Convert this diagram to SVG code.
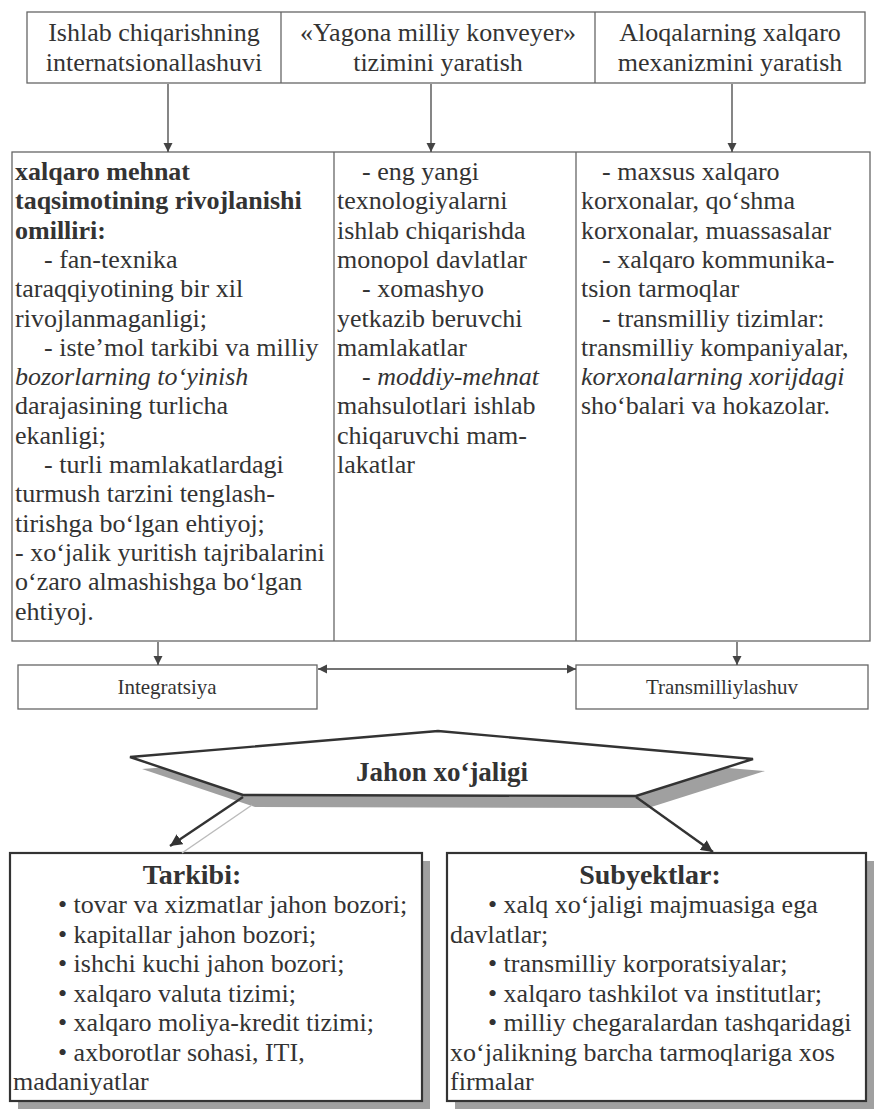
<svg xmlns="http://www.w3.org/2000/svg" width="876" height="1118" viewBox="0 0 876 1118">
<style>
.t{font-family:"Liberation Serif","Times New Roman",serif;font-size:26px;fill:#333}
.c{text-anchor:middle}
.b{font-weight:bold}
.i{font-style:italic}
.s{font-size:21px}
.box{fill:#fff;stroke:#666;stroke-width:1.3}
.div{stroke:#666;stroke-width:1.3}
.bb{fill:#fff;stroke:#333;stroke-width:2.2}
.sh{fill:#a0a0a0}
.ar{stroke:#444;stroke-width:1.3;fill:none}
.ar2{stroke:#333;stroke-width:2.4;fill:none}
</style>
<defs>
<marker id="ah" viewBox="0 0 10 10" refX="10" refY="5" markerWidth="9" markerHeight="10" markerUnits="userSpaceOnUse" orient="auto-start-reverse"><path d="M0,0 L10,5 L0,10 z" fill="#444"/></marker>
<marker id="ah2" viewBox="0 0 10 10" refX="10" refY="5" markerWidth="12" markerHeight="12" markerUnits="userSpaceOnUse" orient="auto"><path d="M0,0 L10,5 L0,10 z" fill="#333"/></marker>
</defs>
<rect width="876" height="1118" fill="#fff"/>

<g id="top-row">
<rect class="box" x="27" y="12" width="838" height="71"/>
<line class="div" x1="281" y1="12" x2="281" y2="83"/>
<line class="div" x1="595" y1="12" x2="595" y2="83"/>
</g>
<g id="n-ishlab"><text class="t c" x="154" y="41">Ishlab chiqarishning</text><text class="t c" x="154" y="71">internatsionallashuvi</text></g>
<g id="n-yagona"><text class="t c" x="438" y="41">«Yagona milliy konveyer»</text><text class="t c" x="438" y="71">tizimini yaratish</text></g>
<g id="n-aloqa"><text class="t c" x="730" y="41">Aloqalarning xalqaro</text><text class="t c" x="730" y="71">mexanizmini yaratish</text></g>

<g id="middle-box">
<rect class="box" x="12" y="152" width="858" height="489"/>
<line class="div" x1="334" y1="152" x2="334" y2="641"/>
<line class="div" x1="576" y1="152" x2="576" y2="641"/>
</g>
<g id="n-omillar">
<text class="t b" x="15" y="180">xalqaro mehnat</text>
<text class="t b" x="15" y="209">taqsimotining rivojlanishi</text>
<text class="t b" x="15" y="239">omilliri:</text>
<text class="t" x="44" y="268">- fan-texnika</text>
<text class="t" x="15" y="297">taraqqiyotining bir xil</text>
<text class="t" x="15" y="327">rivojlanmaganligi;</text>
<text class="t" x="44" y="356">- iste’mol tarkibi va milliy</text>
<text class="t i" x="15" y="385">bozorlarning to‘yinish</text>
<text class="t" x="15" y="414">darajasining turlicha</text>
<text class="t" x="15" y="444">ekanligi;</text>
<text class="t" x="44" y="473">- turli mamlakatlardagi</text>
<text class="t" x="15" y="502">turmush tarzini tenglash-</text>
<text class="t" x="15" y="532">tirishga bo‘lgan ehtiyoj;</text>
<text class="t" x="15" y="561">- xo‘jalik yuritish tajribalarini</text>
<text class="t" x="15" y="590">o‘zaro almashishga bo‘lgan</text>
<text class="t" x="15" y="620">ehtiyoj.</text>
</g>
<g id="n-davlatlar">
<text class="t" x="362" y="180">- eng yangi</text>
<text class="t" x="337" y="209">texnologiyalarni</text>
<text class="t" x="337" y="239">ishlab chiqarishda</text>
<text class="t" x="337" y="268">monopol davlatlar</text>
<text class="t" x="362" y="297">- xomashyo</text>
<text class="t" x="337" y="327">yetkazib beruvchi</text>
<text class="t" x="337" y="356">mamlakatlar</text>
<text class="t" x="362" y="385">- <tspan class="i">moddiy-mehnat</tspan></text>
<text class="t" x="337" y="414">mahsulotlari ishlab</text>
<text class="t" x="337" y="444">chiqaruvchi mam-</text>
<text class="t" x="337" y="473">lakatlar</text>
</g>
<g id="n-korxonalar">
<text class="t" x="602" y="180">- maxsus xalqaro</text>
<text class="t" x="581" y="209">korxonalar, qo‘shma</text>
<text class="t" x="581" y="239">korxonalar, muassasalar</text>
<text class="t" x="602" y="268">- xalqaro kommunika-</text>
<text class="t" x="581" y="297">tsion tarmoqlar</text>
<text class="t" x="602" y="327">- transmilliy tizimlar:</text>
<text class="t" x="581" y="356">transmilliy kompaniyalar,</text>
<text class="t i" x="581" y="385">korxonalarning xorijdagi</text>
<text class="t" x="581" y="414">sho‘balari va hokazolar.</text>
</g>

<g id="n-integratsiya">
<rect class="box" x="18" y="665" width="299" height="44"/>
<text class="t s c" x="167" y="694">Integratsiya</text>
</g>
<g id="n-transmilliylashuv">
<rect class="box" x="576" y="665" width="292" height="44"/>
<text class="t s c" x="722" y="694">Transmilliylashuv</text>
</g>

<g id="n-jahon">
<polygon class="sh" points="142,769 450,745 765,771 648,808 255,807"/>
<polygon fill="#fff" stroke="#333" stroke-width="2.4" stroke-linejoin="miter" points="130,757 438,731 753,759 636,796 243,795"/>
<text class="t b c" x="442" y="781" style="font-size:27px">Jahon xo‘jaligi</text>
</g>

<g id="n-tarkibi">
<rect class="sh" x="18" y="861" width="412" height="248"/>
<rect class="bb" x="10" y="853" width="412" height="248"/>
<text class="t b c" x="192" y="884" style="font-size:28px">Tarkibi:</text>
<text class="t" x="58" y="913">• tovar va xizmatlar jahon bozori;</text>
<text class="t" x="58" y="943">• kapitallar jahon bozori;</text>
<text class="t" x="58" y="972">• ishchi kuchi jahon bozori;</text>
<text class="t" x="58" y="1002">• xalqaro valuta tizimi;</text>
<text class="t" x="58" y="1031">• xalqaro moliya-kredit tizimi;</text>
<text class="t" x="58" y="1061">• axborotlar sohasi, ITI,</text>
<text class="t" x="13" y="1090">madaniyatlar</text>
</g>
<g id="n-subyektlar">
<rect class="sh" x="455" y="861" width="419" height="248"/>
<rect class="bb" x="447" y="853" width="419" height="248"/>
<text class="t b c" x="650" y="884" style="font-size:28px">Subyektlar:</text>
<text class="t" x="488" y="913">• xalq xo‘jaligi majmuasiga ega</text>
<text class="t" x="450" y="943">davlatlar;</text>
<text class="t" x="488" y="972">• transmilliy korporatsiyalar;</text>
<text class="t" x="488" y="1002">• xalqaro tashkilot va institutlar;</text>
<text class="t" x="488" y="1031">• milliy chegaralardan tashqaridagi</text>
<text class="t" x="450" y="1061">xo‘jalikning barcha tarmoqlariga xos</text>
<text class="t" x="450" y="1090">firmalar</text>
</g>

<g id="connectors">
<line class="ar" x1="168" y1="84" x2="168" y2="152" marker-end="url(#ah)"/>
<line class="ar" x1="431" y1="84" x2="431" y2="152" marker-end="url(#ah)"/>
<line class="ar" x1="732" y1="84" x2="732" y2="152" marker-end="url(#ah)"/>
<line class="ar" x1="158" y1="642" x2="158" y2="665" marker-end="url(#ah)"/>
<line class="ar" x1="737" y1="642" x2="737" y2="665" marker-end="url(#ah)"/>
<line class="ar" x1="318" y1="669" x2="576" y2="669" marker-start="url(#ah)" marker-end="url(#ah)"/>
<line stroke="#bbb" stroke-width="1.5" x1="252" y1="805" x2="182" y2="853"/>
<line class="ar2" x1="243" y1="797" x2="170" y2="846" marker-end="url(#ah2)"/>
<line class="ar2" x1="636" y1="797" x2="713" y2="852" marker-end="url(#ah2)"/>
</g>
</svg>
